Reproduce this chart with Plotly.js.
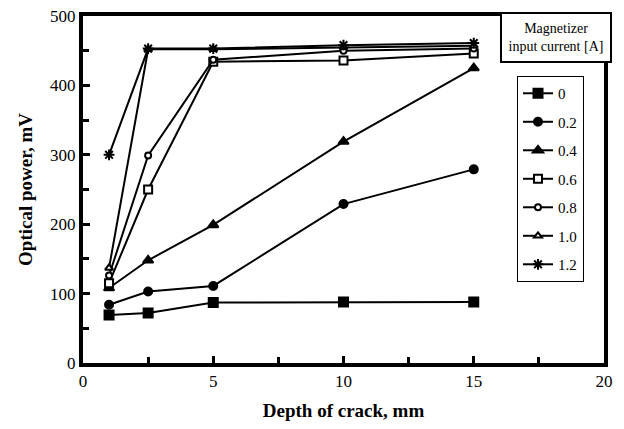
<!DOCTYPE html>
<html>
<head>
<meta charset="utf-8">
<script src="https://cdn.plot.ly/plotly-3.0.1.min.js"></script>
<style>html,body{margin:0;padding:0;background:#fff;}#chart{width:624px;height:429px;}</style>
</head>
<body>
<div id="chart"></div>
<script>
const depth = [1, 2.5, 5, 10, 15];
const seriesNames = ["0", "0.2", "0.4", "0.6", "0.8", "1.0", "1.2"];
const s0  = [69, 72, 87, 88, 88];
const s02 = [84, 103, 111, 229, 279];
const s04 = [108, 148, 199, 319, 425];
const s06 = [115, 250, 434, 436, 446];
const s08 = [126, 299, 437, 450, 453];
const s10 = [137, 452, 452, 455, 457];
const s12 = [300, 453, 453, 458, 461];
const xTickVals = [0, 5, 10, 15, 20];
const yTickVals = [0, 100, 200, 300, 400, 500];

const values = [s0, s02, s04, s06, s08, s10, s12];
const symbols = ["square", "circle", "triangle-up", "square", "circle", "triangle-up", "asterisk-open"];
const fills = ["#000", "#000", "#000", "#fff", "#fff", "#fff", "#000"];
const sizes = [9, 8, 9, 8, 6, 7, 9];

const traces = values.map((v, i) => ({
  x: depth, y: v, name: seriesNames[i], type: "scatter", mode: "lines+markers",
  legendgroup: "g" + i,
  line: {color: "#000", width: 2},
  marker: {symbol: symbols[i], size: sizes[i], color: fills[i],
           line: {color: "#000", width: 2}},
  cliponaxis: false
}));

const layout = {
  width: 624, height: 429,
  margin: {l: 83, r: 20, t: 16, b: 66},
  paper_bgcolor: "#fff", plot_bgcolor: "#fff",
  font: {family: "Liberation Serif, Times New Roman, serif", color: "#000", size: 16},
  showlegend: true,
  legend: {x: 0.833, y: 0.827, xanchor: "left", yanchor: "top", bgcolor: "#fff",
           bordercolor: "#000", borderwidth: 1, tracegroupgap: 6,
           font: {family: "Liberation Serif, serif", size: 15, color: "#000"}},
  xaxis: {range: [0, 20], tickvals: xTickVals, ticks: "inside", ticklen: 7, tickwidth: 3, tickcolor: "#000",
          showline: true, linewidth: 4, linecolor: "#000", mirror: true, showgrid: false, zeroline: false,
          minor: {dtick: 2.5, ticks: "inside", ticklen: 6, tickwidth: 3, tickcolor: "#000", showgrid: false},
          tickfont: {size: 17},
          title: {text: "<b>Depth of crack, mm</b>", font: {size: 19}, standoff: 14}},
  yaxis: {range: [0, 500], tickvals: yTickVals, ticks: "inside", ticklen: 7, tickwidth: 3, tickcolor: "#000",
          showline: true, linewidth: 4, linecolor: "#000", mirror: true, showgrid: false, zeroline: false,
          minor: {dtick: 50, ticks: "inside", ticklen: 6, tickwidth: 3, tickcolor: "#000", showgrid: false},
          tickfont: {size: 17}, ticksuffix: "\u00a0",
          title: {text: "<b>Optical power, mV</b>", font: {size: 19}, standoff: 13}},
  annotations: [{
    xref: "paper", yref: "paper", x: 0.908, y: 0.938, xanchor: "center", yanchor: "middle",
    text: "Magnetizer<br>input current [A]", showarrow: false,
    font: {family: "Liberation Serif, serif", size: 14, color: "#000"},
    bgcolor: "#fff", bordercolor: "#000", borderwidth: 2, width: 106, height: 45, borderpad: 1
  }]
};
Plotly.newPlot("chart", traces, layout, {displayModeBar: false, staticPlot: true});
</script>
</body>
</html>
